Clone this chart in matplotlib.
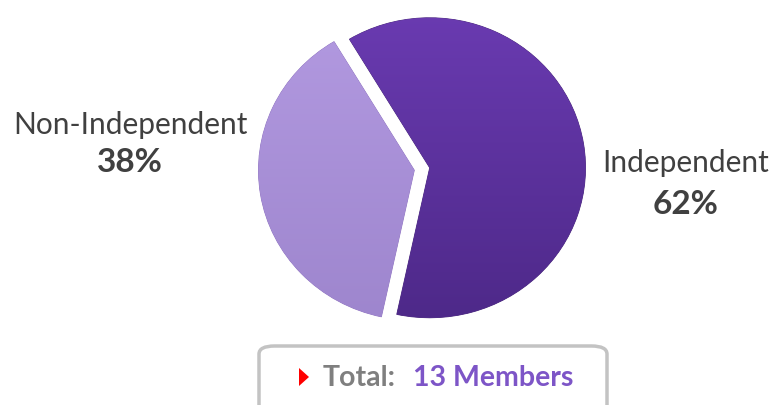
import numpy as np
import matplotlib.pyplot as plt
from matplotlib.patches import FancyBboxPatch, Polygon
from matplotlib.colors import LinearSegmentedColormap

# data
labels = ['Independent', 'Non-Independent']
shares = [62, 38]
colors = ['#5d31a0', '#a88bd7']
total_members = 13

# top / bottom shades used to fake the glossy gradient
shade_top = ['#6c3cb4', '#b49be2']
shade_bot = ['#4b2785', '#9c84cc']

plt.rcParams['font.family'] = ['Lato', 'DejaVu Sans']

fig = plt.figure(figsize=(7.74, 4.06), dpi=100)
fig.patch.set_facecolor('white')

# pie axes, slightly wider than tall to mimic the perspective look
W, H = 774, 406
cx, cy = 422, 170
aw, ah = 374, 360
ax = fig.add_axes([(cx - aw / 2) / W, (H - cy - ah / 2) / H, aw / W, ah / H])
wedges, _ = ax.pie(shares, colors=colors, startangle=121, counterclock=False,
                   explode=[0.05, 0.05],
                   wedgeprops=dict(edgecolor='#4a2a7a', linewidth=0.6))
wedges[1].set_edgecolor('#8f74c0')
ax.set_aspect('auto')

grad = np.linspace(0, 1, 256).reshape(-1, 1)
for w, top, bot in zip(wedges, shade_top, shade_bot):
    cmap = LinearSegmentedColormap.from_list('g', [bot, top])
    im = ax.imshow(grad, cmap=cmap, extent=[-1.2, 1.2, -1.2, 1.2],
                   origin='lower', aspect='auto', zorder=w.get_zorder() + 0.1)
    im.set_clip_path(w)
ax.set_xlim(-1.2, 1.2)
ax.set_ylim(-1.2, 1.2)
ax.axis('off')

# outside labels
txt_col = '#404040'
fig.text(130 / W, 1 - 125 / H, labels[1], ha='center', va='center',
         fontsize=21.5, color=txt_col)
fig.text(130 / W, 1 - 163 / H, '%d%%' % shares[1], ha='center', va='center',
         fontsize=24, fontweight='bold', color=txt_col)
fig.text(686 / W, 1 - 163 / H, labels[0], ha='center', va='center',
         fontsize=21.5, color=txt_col)
fig.text(686 / W, 1 - 205 / H, '%d%%' % shares[0], ha='center', va='center',
         fontsize=24, fontweight='bold', color=txt_col)

# total box at the bottom
box = FancyBboxPatch((259 / W, -20 / H), 348 / W, 79 / H,
                     boxstyle='round,pad=0,rounding_size=0.02',
                     transform=fig.transFigure, facecolor='white',
                     edgecolor='#c3c3c3', linewidth=2.5, clip_on=False)
fig.add_artist(box)
tri = Polygon([(299 / W, 1 - 369 / H), (299 / W, 1 - 387 / H), (309 / W, 1 - 378 / H)],
              closed=True, transform=fig.transFigure, facecolor='#ff0000',
              edgecolor='none')
fig.add_artist(tri)
fig.text(323 / W, 1 - 378 / H, 'Total:', ha='left', va='center',
         fontsize=20.5, fontweight='bold', color='#7f7f7f')
fig.text(413 / W, 1 - 378 / H, '%d Members' % total_members, ha='left',
         va='center', fontsize=20.5, fontweight='bold', color='#7d55c7')

fig.savefig('out.png', dpi=100, facecolor='white')
